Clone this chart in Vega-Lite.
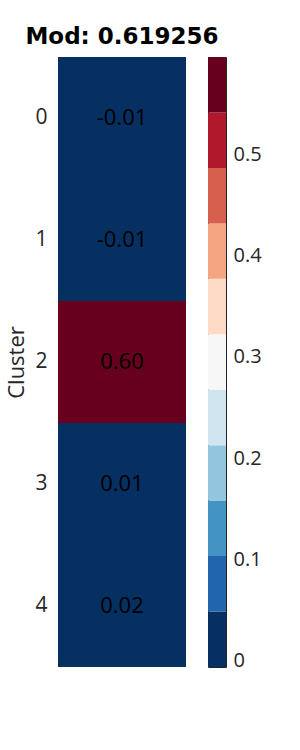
{
  "$schema": "https://vega.github.io/schema/vega-lite/v6.json",
  "background": "white",
  "padding": {"left": 5, "top": 26, "right": 5, "bottom": 5},
  "config": {"font": "Open Sans"},
  "bounds": "flush",
  "spacing": 22,
  "hconcat": [
    {
      "title": {"text": "Mod: 0.619256", "font": "DejaVu Sans", "fontSize": 23, "fontWeight": "bold", "anchor": "middle", "frame": "group", "offset": 8, "color": "black"},
      "width": 128,
      "height": 610,
      "view": {"stroke": null},
      "data": {"values": [
        {"cluster": 0, "mod": -0.006},
        {"cluster": 1, "mod": -0.006},
        {"cluster": 2, "mod": 0.596},
        {"cluster": 3, "mod": 0.01},
        {"cluster": 4, "mod": 0.02}
      ]},
      "encoding": {
        "y": {"field": "cluster", "type": "ordinal", "title": "Cluster",
          "scale": {"paddingInner": 0, "paddingOuter": 0},
          "axis": {"labelAngle": 0, "ticks": false, "domain": false, "labelFontSize": 21, "labelColor": "#262626", "labelPadding": 11, "titleFontSize": 22, "titleFontWeight": "normal", "titleColor": "#262626", "titlePadding": 6}}
      },
      "layer": [
        {"mark": {"type": "rect"},
         "encoding": {"color": {"field": "mod", "type": "quantitative",
           "scale": {"type": "quantize", "domain": [-0.006, 0.596], "nice": false, "zero": false,
             "range": ["#053061", "#2166ac", "#4393c3", "#92c5de", "#d1e5f0", "#f7f7f7", "#fddbc7", "#f4a582", "#d6604d", "#b2182b", "#67001f"]},
           "legend": null}}},
        {"mark": {"type": "text", "fontSize": 22, "color": "black",
           "text": {"expr": "replace(format(datum.mod, '.2f'), '\u2212', '-')"}}}
      ]
    },
    {
      "width": 18,
      "height": 610,
      "view": {"stroke": "#222222", "strokeWidth": 1},
      "data": {"values": [
        {"bin": 0, "lo": -0.006, "hi": 0.0487},
        {"bin": 1, "lo": 0.0487, "hi": 0.1035},
        {"bin": 2, "lo": 0.1035, "hi": 0.1582},
        {"bin": 3, "lo": 0.1582, "hi": 0.2129},
        {"bin": 4, "lo": 0.2129, "hi": 0.2676},
        {"bin": 5, "lo": 0.2676, "hi": 0.3224},
        {"bin": 6, "lo": 0.3224, "hi": 0.3771},
        {"bin": 7, "lo": 0.3771, "hi": 0.4318},
        {"bin": 8, "lo": 0.4318, "hi": 0.4865},
        {"bin": 9, "lo": 0.4865, "hi": 0.5413},
        {"bin": 10, "lo": 0.5413, "hi": 0.596}
      ]},
      "mark": {"type": "rect"},
      "encoding": {
        "y": {"field": "lo", "type": "quantitative", "title": null,
          "scale": {"domain": [-0.006, 0.596], "nice": false, "zero": false},
          "axis": {"orient": "right", "values": [0, 0.1, 0.2, 0.3, 0.4, 0.5], "format": ".1~f", "grid": false, "domain": false, "tickSize": -6, "tickColor": "#222222", "labelFontSize": 20, "labelColor": "#262626", "labelPadding": 13}},
        "y2": {"field": "hi"},
        "color": {"field": "bin", "type": "ordinal",
          "scale": {"range": ["#053061", "#2166ac", "#4393c3", "#92c5de", "#d1e5f0", "#f7f7f7", "#fddbc7", "#f4a582", "#d6604d", "#b2182b", "#67001f"]},
          "legend": null}
      }
    }
  ]
}
